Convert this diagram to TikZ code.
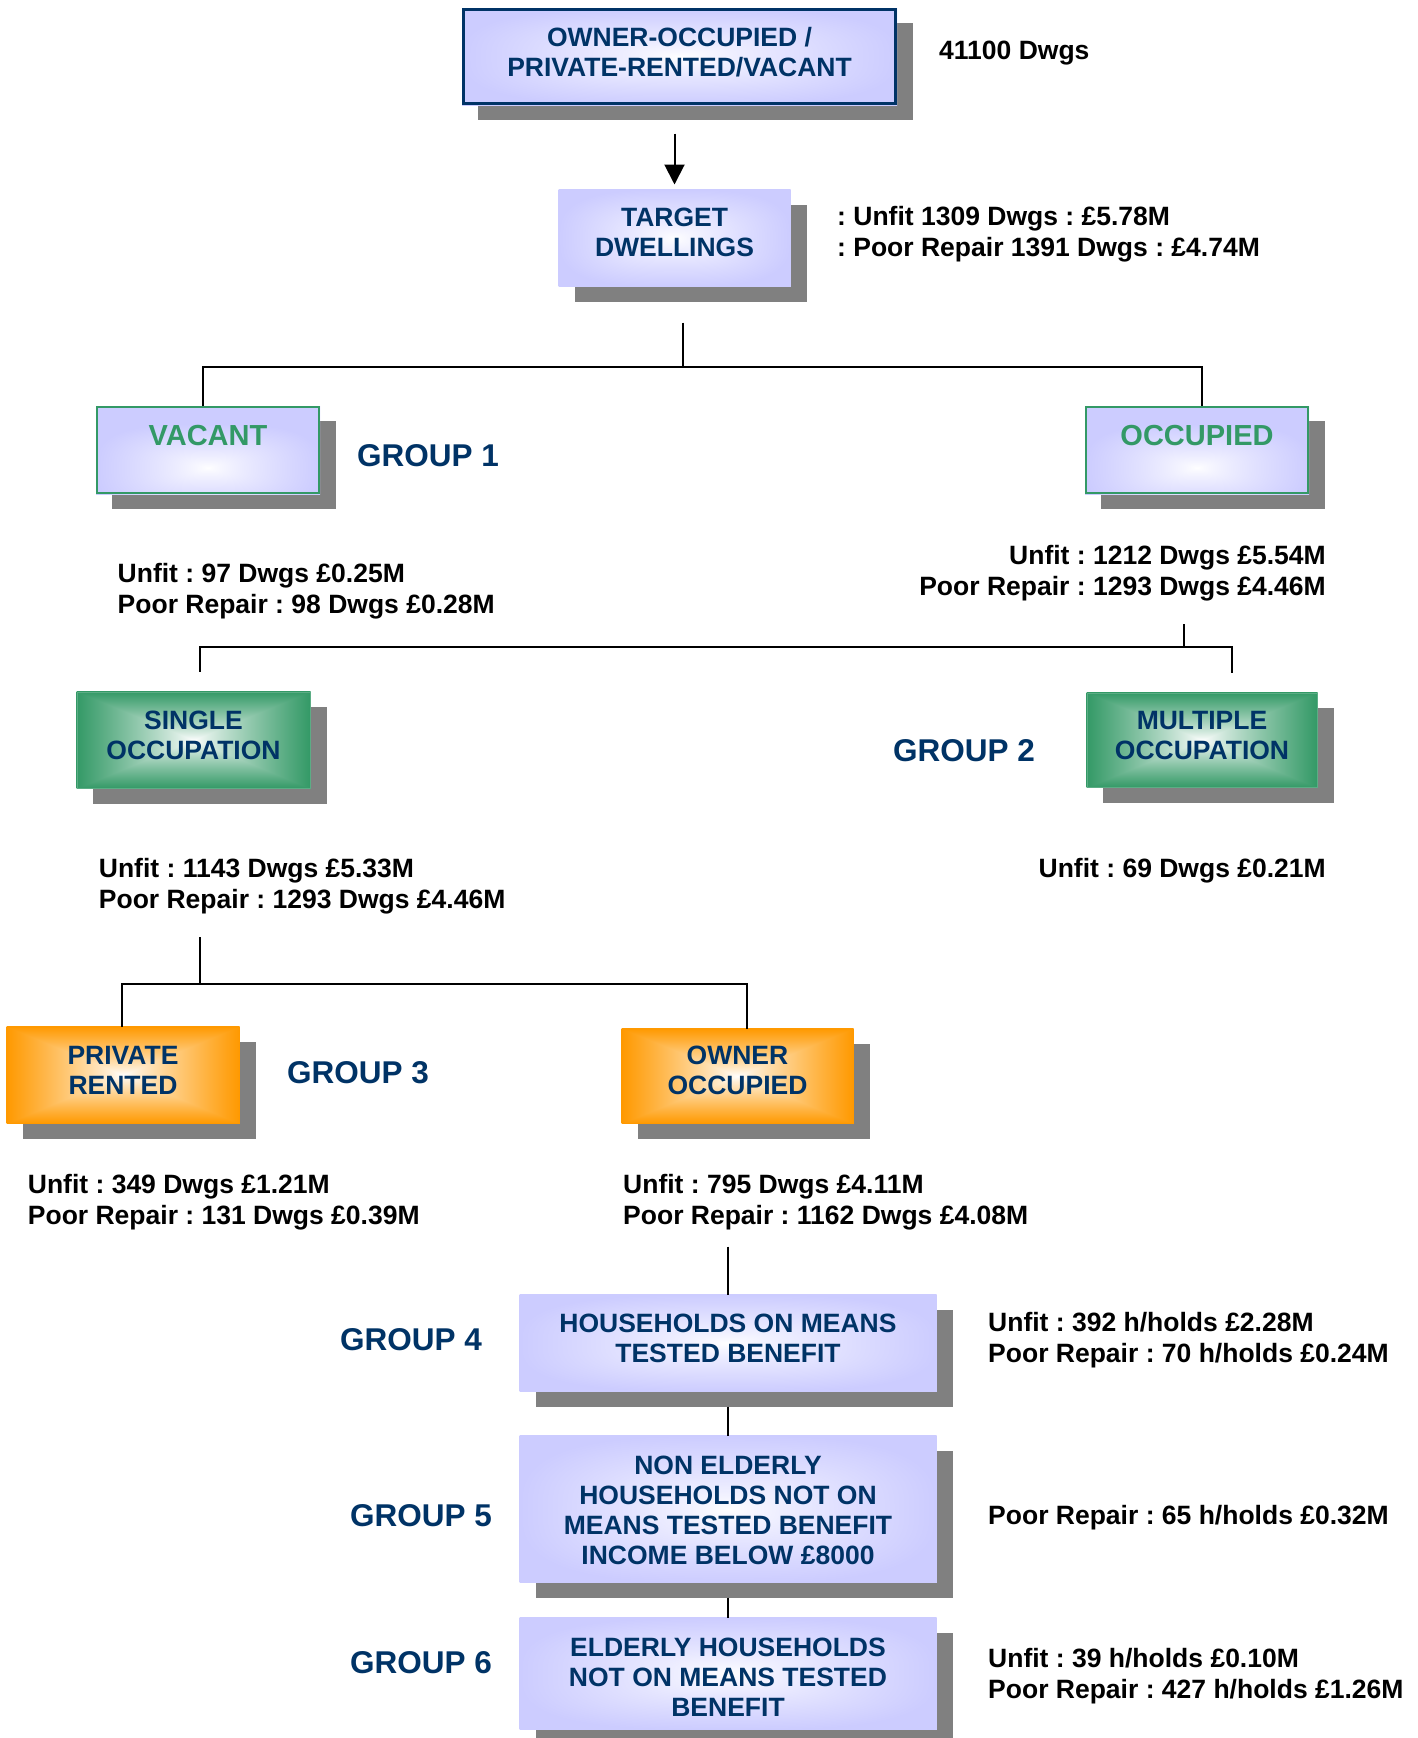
\documentclass[tikz,border=0pt]{standalone}
\usepackage{fontspec}
\setmainfont{Liberation Sans}
\usetikzlibrary{arrows.meta,calc}
\definecolor{navy}{RGB}{0,51,102}
\definecolor{greenC}{RGB}{51,153,102}
\definecolor{orangeC}{RGB}{255,153,0}
\definecolor{lav}{RGB}{204,204,255}
\definecolor{shadowgray}{RGB}{128,128,128}
\pgfdeclarelayer{shadowlayer}
\pgfdeclarelayer{shadelayer}
\pgfsetlayers{shadowlayer,shadelayer,main}
\frenchspacing
\pgfdeclarefunctionalshading{lavsh}{\pgfpoint{-50bp}{-50bp}}{\pgfpoint{50bp}{50bp}}{}{
  abs 3 exp exch abs 3 exp add 0.33333 exp 25 div
  dup 1 sub abs neg 1 add add 2 div
  0.8 exp
  dup 0.2 mul 1 exch sub exch
  dup 0.2 mul 1 exch sub exch
  0 mul 1 exch sub
}
\pgfdeclarefunctionalshading{lavlowsh}{\pgfpoint{-50bp}{-50bp}}{\pgfpoint{50bp}{50bp}}{}{
  10 add abs 3 exp exch abs 3 exp add 0.33333 exp 25 div
  dup 1 sub abs neg 1 add add 2 div
  0.8 exp
  dup 0.2 mul 1 exch sub exch
  dup 0.2 mul 1 exch sub exch
  0 mul 1 exch sub
}
\pgfdeclarefunctionalshading{greensh}{\pgfpoint{-50bp}{-50bp}}{\pgfpoint{50bp}{50bp}}{}{
  abs exch abs 2 copy sub abs add add 2 div 25 div
  dup 1 sub abs neg 1 add add 2 div
  0.85 exp
  dup 0.8 mul 1 exch sub exch
  dup 0.4 mul 1 exch sub exch
  0.6 mul 1 exch sub
}
\pgfdeclarefunctionalshading{orangesh}{\pgfpoint{-50bp}{-50bp}}{\pgfpoint{50bp}{50bp}}{}{
  abs exch abs 2 copy sub abs add add 2 div 25 div
  dup 1 sub abs neg 1 add add 2 div
  0.85 exp
  dup 0 mul 1 exch sub exch
  dup 0.4 mul 1 exch sub exch
  1 mul 1 exch sub
}
\newcommand\boxfnt{\fontsize{26.5}{30}\selectfont\bfseries}
\newcommand\sidefnt{\fontsize{26.5}{31}\selectfont\bfseries}
\newcommand\grpfnt{\fontsize{31.5}{36}\selectfont\bfseries}
\newcommand\bxtxt[2]{\raisebox{#1}[\height][\depth]{\begin{tabular}{@{}c@{}}#2\end{tabular}}}
\newcommand\gradbox[2]{%
  \begin{pgfonlayer}{shadowlayer}
    \fill[shadowgray] ([shift={(16pt,-15pt)}]#1.north west) rectangle ([shift={(16pt,-15pt)}]#1.south east);
  \end{pgfonlayer}
  \begin{pgfonlayer}{shadelayer}
    \shade[shading=#2] (#1.north west) rectangle (#1.south east);
  \end{pgfonlayer}}
\tikzset{
  box/.style={rectangle, inner sep=0pt, font=\boxfnt, text=navy},
  side/.style={inner sep=0pt, font=\sidefnt, text=black},
  grp/.style={inner sep=0pt, font=\grpfnt, text=navy, anchor=base west},
  conn/.style={line width=2pt, black},
  arr/.style={line width=2pt, black, -{Triangle[width=20pt,length=20pt]}}
}
\begin{document}
\begin{tikzpicture}[x=1pt, y=-1pt]
\useasboundingbox (0,0) rectangle (1417,1738);
\begin{pgfonlayer}{shadowlayer}
\fill[white] (0,0) rectangle (1417,1738);
\end{pgfonlayer}

% boxes
\node[box, draw=navy, line width=3pt, minimum width=432pt, minimum height=94pt] (top) at (679.5,56.5) {\bxtxt{1pt}{OWNER-OCCUPIED /\\PRIVATE-RENTED/VACANT}};
\node[box, draw=lav, line width=1pt, minimum width=231pt, minimum height=96pt] (target) at (674.5,238) {\bxtxt{2.5pt}{TARGET\\DWELLINGS}};
\node[box, draw=greenC, line width=2pt, minimum width=222pt, minimum height=86pt, text=greenC, font=\fontsize{29}{32}\selectfont\bfseries, text height=20.8pt, text depth=30pt] (vacant) at (208,450) {VACANT};
\node[box, draw=greenC, line width=2pt, minimum width=222pt, minimum height=86pt, text=greenC, font=\fontsize{29}{32}\selectfont\bfseries, text height=20.8pt, text depth=30pt] (occupied) at (1197,450) {OCCUPIED};
\node[box, draw=greenC!80!white, line width=1pt, minimum width=233pt, minimum height=96pt] (single) at (193.5,740) {\bxtxt{2pt}{SINGLE\\OCCUPATION}};
\node[box, draw=greenC!80!white, line width=1pt, minimum width=230pt, minimum height=94pt] (multiple) at (1202,740) {\bxtxt{2pt}{MULTIPLE\\OCCUPATION}};
\node[box, draw=orangeC, line width=1pt, minimum width=232pt, minimum height=96pt] (private) at (123,1075) {\bxtxt{1.5pt}{PRIVATE\\RENTED}};
\node[box, draw=orangeC, line width=1pt, minimum width=231pt, minimum height=94pt] (owner) at (737.5,1076) {\bxtxt{2.5pt}{OWNER\\OCCUPIED}};
\node[box, draw=lav, line width=1pt, minimum width=416pt, minimum height=96pt] (hh) at (728,1343) {\bxtxt{1.5pt}{HOUSEHOLDS ON MEANS\\TESTED BENEFIT}};
\node[box, draw=lav, line width=1pt, minimum width=416pt, minimum height=146pt] (g5box) at (728,1509) {\bxtxt{-4.5pt}{NON ELDERLY\\HOUSEHOLDS NOT ON\\MEANS TESTED BENEFIT\\INCOME BELOW £8000}};
\node[box, draw=lav, line width=1pt, minimum width=416pt, minimum height=111pt] (g6box) at (728,1673.5) {\bxtxt{-7pt}{ELDERLY HOUSEHOLDS\\NOT ON MEANS TESTED\\BENEFIT}};

\gradbox{top}{lavsh}
\gradbox{target}{lavsh}
\gradbox{vacant}{lavlowsh}
\gradbox{occupied}{lavlowsh}
\gradbox{single}{greensh}
\gradbox{multiple}{greensh}
\gradbox{private}{orangesh}
\gradbox{owner}{orangesh}
\gradbox{hh}{lavsh}
\gradbox{g5box}{lavsh}
\gradbox{g6box}{lavsh}

% group labels
\node[grp] (grp1) at (357,466.3) {GROUP 1};
\node[grp] (grp2) at (893,761.3) {GROUP 2};
\node[grp] (grp3) at (287,1083.3) {GROUP 3};
\node[grp] (grp4) at (340,1350.3) {GROUP 4};
\node[grp] (grp5) at (350,1526.3) {GROUP 5};
\node[grp] (grp6) at (350,1673.3) {GROUP 6};

% side texts
\node[side, anchor=base west] (t0) at (939,59.5) {41100 Dwgs};
\node[side, anchor=north west, align=left] (t1) at (837,206.5) {: Unfit 1309 Dwgs : £5.78M\\: Poor Repair 1391 Dwgs : £4.74M};
\node[side, anchor=north west, align=left] (tvac) at (117.5,563.5) {Unfit : 97 Dwgs £0.25M\\Poor Repair : 98 Dwgs £0.28M};
\node[side, anchor=north east, align=right] (tocc) at (1326,545.5) {Unfit : 1212 Dwgs £5.54M\\Poor Repair : 1293 Dwgs £4.46M};
\node[side, anchor=north west, align=left] (tsin) at (98.7,858.5) {Unfit : 1143 Dwgs £5.33M\\Poor Repair : 1293 Dwgs £4.46M};
\node[side, anchor=north east, align=right] (tmul) at (1326,858.5) {Unfit : 69 Dwgs £0.21M};
\node[side, anchor=north west, align=left] (tpri) at (27.7,1174.5) {Unfit : 349 Dwgs £1.21M\\Poor Repair : 131 Dwgs £0.39M};
\node[side, anchor=north west, align=left] (town) at (623,1174.5) {Unfit : 795 Dwgs £4.11M\\Poor Repair : 1162 Dwgs £4.08M};
\node[side, anchor=north west, align=left] (thh) at (988,1312.5) {Unfit : 392 h/holds £2.28M\\Poor Repair : 70 h/holds £0.24M};
\node[side, anchor=north west, align=left] (tg5) at (988,1505.5) {Poor Repair : 65 h/holds £0.32M};
\node[side, anchor=north west, align=left] (tg6) at (988,1648.5) {Unfit : 39 h/holds £0.10M\\Poor Repair : 427 h/holds £1.26M};

% connectors
\draw[arr, shorten <=28.5pt, shorten >=5pt] (top.south -| target.north) -- (target.north);

\coordinate (j1) at (683,367);
\draw[conn] ([shift={(8.5,36)}]target.south) -- (j1);
\draw[conn] ([xshift=-5pt]vacant.north) |- (j1) -| ([xshift=5pt]occupied.north);

\coordinate (s2) at (1184,624);
\coordinate (j2) at (1184,647);
\draw[conn] (s2) -- (j2);
\draw[conn] ([xshift=6pt, yshift=20pt]single.north) |- (j2) -| ([xshift=30pt, yshift=20pt]multiple.north);

\coordinate (s3) at (199.6,937);
\coordinate (j3) at (199.6,983.5);
\draw[conn] (s3) -- (j3);
\draw[conn] ([xshift=-1pt]private.north) |- (j3) -| ([xshift=9.5pt]owner.north);

\draw[conn] ([yshift=48pt]hh.north) -- (hh.north);
\draw[conn] ([yshift=-15pt]hh.south) -- (g5box.north);
\draw[conn] ([yshift=-15pt]g5box.south) -- (g6box.north);
\end{tikzpicture}
\end{document}
